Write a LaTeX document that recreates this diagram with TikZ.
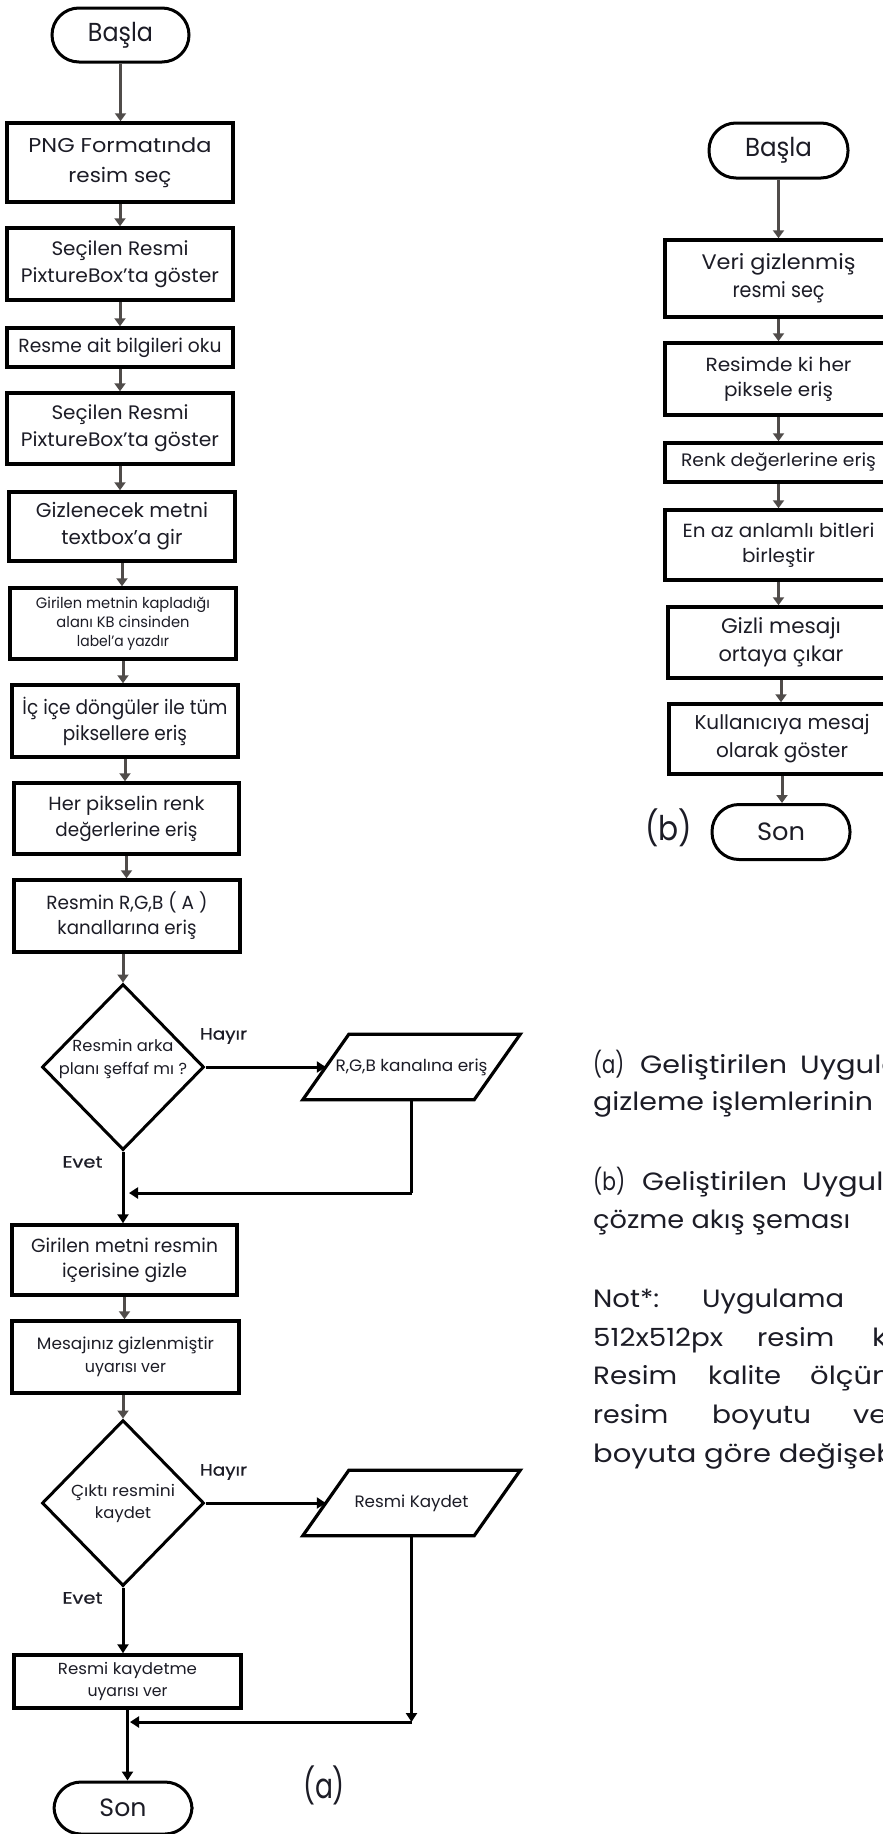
\documentclass[tikz,border=0pt]{standalone}
\usepackage{graphicx}
\usepackage{fontspec}
\setmainfont{Poppins}
\newfontfamily\medfont{Poppins}[FakeBold=0.6]
\usetikzlibrary{arrows.meta,shapes.geometric}
\definecolor{agray}{RGB}{80,76,74}
\definecolor{txt}{RGB}{28,28,38}
\newcommand\setfs[2]{\fontsize{#1}{#2}\selectfont}
\newcommand\fitto[2]{\resizebox{#1pt}{\height}{#2}}
\newcommand\wider[1]{\scalebox{1.16}[1]{#1}}
\begin{document}
\begin{tikzpicture}[x=1pt,y=-1pt,
  proc/.style={draw=black, line width=3.5pt, inner sep=0pt, align=center, text=txt},
  term/.style={draw=black, line width=3pt, inner sep=0pt, align=center, text=txt,
    rounded corners=27pt, font=\setfs{25}{30}},
  dec/.style={draw=black, line width=3pt, diamond, inner sep=0pt,
    minimum width=162pt, minimum height=166pt},
  ptext/.style={inner sep=0pt, align=center, text=txt, font=\setfs{16.5}{22},
    minimum width=171pt, minimum height=65pt},
  para/.style={draw=black, line width=3.2pt, line join=miter},
  plain/.style={inner sep=0pt, align=center, text=txt},
  lbl/.style={inner sep=0pt, text=txt, font=\medfont\setfs{16.5}{20}},
  note/.style={inner sep=0pt, anchor=base west, text=txt, font=\setfs{25}{30}},
  garrow/.style={draw=agray, line width=3pt, -{Triangle[width=11pt,length=8pt]}},
  barrow/.style={draw=black, line width=3pt, -{Triangle[width=11pt,length=9pt]}},
  bline/.style={draw=black, line width=3pt}]
\useasboundingbox (0,0) rectangle (883,1834);
\fill[white] (0,0) rectangle (883,1834);
\clip (0,0) rectangle (883,1834);

% ---------- left flowchart (a) ----------
\node[term, minimum width=137pt, minimum height=54pt, font=\setfs{26}{30}] (s1) at (120.5,35) {\fitto{65}{Başla}};
\node[proc, minimum width=226pt, minimum height=79pt, font=\setfs{20}{30}] (b1) at (120,162.5) {\fitto{183}{PNG Formatında}\\\fitto{103}{resim seç}};
\node[proc, minimum width=226pt, minimum height=72pt, font=\setfs{19.5}{27}] (b2) at (120,264) {\fitto{137}{Seçilen Resmi}\\\fitto{198}{PixtureBox'ta göster}};
\node[proc, minimum width=226pt, minimum height=39pt, font=\setfs{19}{24}] (b3) at (120,347.5) {\fitto{203}{Resme ait bilgileri oku}};
\node[proc, minimum width=226pt, minimum height=71pt, font=\setfs{19.5}{27}] (b4) at (120,428.5) {\fitto{137}{Seçilen Resmi}\\\fitto{198}{PixtureBox'ta göster}};
\node[proc, minimum width=226pt, minimum height=69pt, font=\setfs{20}{27}] (b5) at (122,526.5) {\fitto{172}{Gizlenecek metni}\\\fitto{121}{textbox'a gir}};
\node[proc, minimum width=226pt, minimum height=71pt, font=\setfs{15}{19}] (b6) at (123,623.5) {\fitto{174}{Girilen metnin kapladığı}\\\fitto{133}{alanı KB cinsinden}\\\fitto{92}{label'a yazdır}};
\node[proc, minimum width=226pt, minimum height=72pt, font=\setfs{20}{26}] (b7) at (125,721) {\fitto{205}{İç içe döngüler ile tüm}\\\fitto{124}{piksellere eriş}};
\node[proc, minimum width=225pt, minimum height=71pt, font=\setfs{19}{26}] (b8) at (126.5,818.5) {\fitto{156}{Her pikselin renk}\\\fitto{142}{değerlerine eriş}};
\node[proc, minimum width=226pt, minimum height=72pt, font=\setfs{19}{25}] (b9) at (127,916) {\fitto{161}{Resmin R,G,B ( A )}\\\fitto{139}{kanallarına eriş}};

\node[dec] (d1) at (123,1067) {};
\node[plain, font=\setfs{16}{23}] (d1t) at (123,1058.5) {\fitto{101}{Resmin arka}\\\fitto{128}{planı şeffaf mı ?}};
\node[lbl] (h1) at (223.5,1036) {\fitto{47}{Hayır}};
\node[lbl] (e1) at (82.5,1162) {\fitto{40}{Evet}};
\node[ptext] (p1) at (411.5,1067) {\fitto{152}{R,G,B kanalına eriş}};
\draw[para] ([xshift=23pt]p1.north west) -- ([xshift=23pt]p1.north east)
  -- ([xshift=-23pt]p1.south east) -- ([xshift=-23pt]p1.south west) -- cycle;

\node[proc, minimum width=225pt, minimum height=70pt, font=\setfs{19}{25}] (b10) at (124.5,1260) {\fitto{187}{Girilen metni resmin}\\\fitto{125}{içerisine gizle}};
\node[proc, minimum width=227pt, minimum height=72pt, font=\setfs{16.5}{23}] (b11) at (125.5,1357) {\fitto{177}{Mesajınız gizlenmiştir}\\\fitto{81}{uyarısı ver}};

\node[dec] (d2) at (123,1503) {};
\node[plain, font=\setfs{16}{22}] (d2t) at (123,1503.5) {\fitto{104}{Çıktı resmini}\\\fitto{56}{kaydet}};
\node[lbl] (h2) at (223.5,1472) {\fitto{47}{Hayır}};
\node[lbl] (e2) at (82.5,1598) {\fitto{40}{Evet}};
\node[ptext] (p2) at (411.5,1503) {\fitto{114}{Resmi Kaydet}};
\draw[para] ([xshift=23pt]p2.north west) -- ([xshift=23pt]p2.north east)
  -- ([xshift=-23pt]p2.south east) -- ([xshift=-23pt]p2.south west) -- cycle;

\node[proc, minimum width=227pt, minimum height=53pt, font=\setfs{16}{22}] (b12) at (127.5,1681.5) {\fitto{139}{Resmi kaydetme}\\\fitto{80}{uyarısı ver}};
\node[term, minimum width=138pt, minimum height=52pt] (s2) at (123,1808) {\fitto{47}{Son}};
\node[plain, font=\setfs{35}{40}] (la) at (324,1785) {\fitto{42}{(a)}};

\coordinate (r1) at (411.5,1193);
\coordinate (j1) at (129,1193);
\coordinate (r2) at (411.5,1722);
\coordinate (j2) at (130,1722);

\draw[garrow] (s1.south) -- (s1.south |- b1.north);
\draw[garrow] (b1.south) -- (b1.south |- b2.north);
\draw[garrow] (b2.south) -- (b2.south |- b3.north);
\draw[garrow] (b3.south) -- (b3.south |- b4.north);
\draw[garrow] (b4.south) -- (b4.south |- b5.north);
\draw[garrow] (b5.south) -- (b5.south |- b6.north);
\draw[garrow] (b6.south) -- (b6.south |- b7.north);
\draw[garrow] (b7.south) -- (b7.south |- b8.north);
\draw[garrow] (b8.south) -- (b8.south |- b9.north);
\draw[garrow] (d1.north |- b9.south) -- (d1.north);
\draw[barrow] (d1.east) -- (p1.west);
\draw[barrow] (d1.south) -- (d1.south |- b10.north);
\draw[bline] (p1.south) -- (r1);
\draw[barrow] (r1) -- (j1);
\draw[garrow] (b10.south) -- (b10.south |- b11.north);
\draw[garrow] (d2.north |- b11.south) -- (d2.north);
\draw[barrow] (d2.east) -- (p2.west);
\draw[barrow] (d2.south) -- (d2.south |- b12.north);
\draw[barrow] (p2.south) -- (r2);
\draw[barrow] (r2) -- (j2);
\draw[barrow] (b12.south) -- (b12.south |- s2.north);

% ---------- right flowchart (b) ----------
\node[term, minimum width=139pt, minimum height=55pt, font=\setfs{26}{30}] (t1) at (778.5,150.5) {\fitto{67}{Başla}};
\node[proc, minimum width=227pt, minimum height=77pt, font=\setfs{21}{28}] (c1) at (778.5,278.5) {\fitto{154}{Veri gizlenmiş}\\\fitto{92}{resmi seç}};
\node[proc, minimum width=227pt, minimum height=72pt, font=\setfs{19}{25}] (c2) at (778.5,379) {\fitto{146}{Resimde ki her}\\\fitto{109}{piksele eriş}};
\node[proc, minimum width=227pt, minimum height=39pt, font=\setfs{18}{24}] (c3) at (778.5,462.5) {\fitto{195}{Renk değerlerine eriş}};
\node[proc, minimum width=227pt, minimum height=70pt, font=\setfs{19}{25}] (c4) at (778.5,545) {\fitto{192}{En az anlamlı bitleri}\\\fitto{73}{birleştir}};
\node[proc, minimum width=226pt, minimum height=71pt, font=\setfs{21}{28}] (c5) at (781,642.5) {\fitto{120}{Gizli mesajı}\\\fitto{125}{ortaya çıkar}};
\node[proc, minimum width=226pt, minimum height=70pt, font=\setfs{20}{28}] (c6) at (782,739) {\fitto{175}{Kullanıcıya mesaj}\\\fitto{132}{olarak göster}};
\node[term, minimum width=138pt, minimum height=55pt] (t2) at (781,832) {\fitto{48}{Son}};
\node[plain, font=\setfs{34}{40}] (lb) at (668.5,828) {\fitto{47}{(b)}};

\draw[garrow] (t1.south) -- (t1.south |- c1.north);
\draw[garrow] (c1.south) -- (c1.south |- c2.north);
\draw[garrow] (c2.south) -- (c2.south |- c3.north);
\draw[garrow] (c3.south) -- (c3.south |- c4.north);
\draw[garrow] (c4.south) -- (c4.south |- c5.north);
\draw[garrow] (c5.south) -- (c5.south |- c6.north);
\draw[garrow] (c6.south) -- (c6.south |- t2.north);

% ---------- caption and note ----------
\node[note] (n1a) at (593,1073) {\fitto{31}{(a)}};
\node[note] (n1b) at (640,1073) {\fitto{147}{Geliştirilen}};
\node[note] (n1c) at (800,1073) {\wider{Uygulamanın}};
\node[note] (n2) at (593,1110) {\fitto{280}{gizleme işlemlerinin}};
\node[note] (n3a) at (593,1190) {\fitto{32}{(b)}};
\node[note] (n3b) at (642,1190) {\fitto{145}{Geliştirilen}};
\node[note] (n3c) at (802,1190) {\wider{Uygulamanın}};
\node[note] (n4) at (593,1228) {\fitto{257}{çözme akış şeması}};
\node[note] (n5a) at (593,1307) {\fitto{66}{Not*:}};
\node[note] (n5b) at (702,1307) {\fitto{142}{Uygulama}};
\node[note] (n6a) at (593,1346) {\fitto{130}{512x512px}};
\node[note] (n6b) at (757,1346) {\fitto{77}{resim}};
\node[note] (n6c) at (872,1346) {\wider{kullanılmıştır}};
\node[note] (n7a) at (593,1384) {\fitto{84}{Resim}};
\node[note] (n7b) at (708,1384) {\fitto{73}{kalite}};
\node[note] (n7c) at (810,1384) {\wider{ölçümleri}};
\node[note] (n8a) at (593,1423) {\fitto{75}{resim}};
\node[note] (n8b) at (712,1423) {\fitto{99}{boyutu}};
\node[note] (n8c) at (853,1423) {\wider{ve}};
\node[note] (n9) at (593,1462) {\wider{boyuta göre değişebilir}};
\end{tikzpicture}
\end{document}
